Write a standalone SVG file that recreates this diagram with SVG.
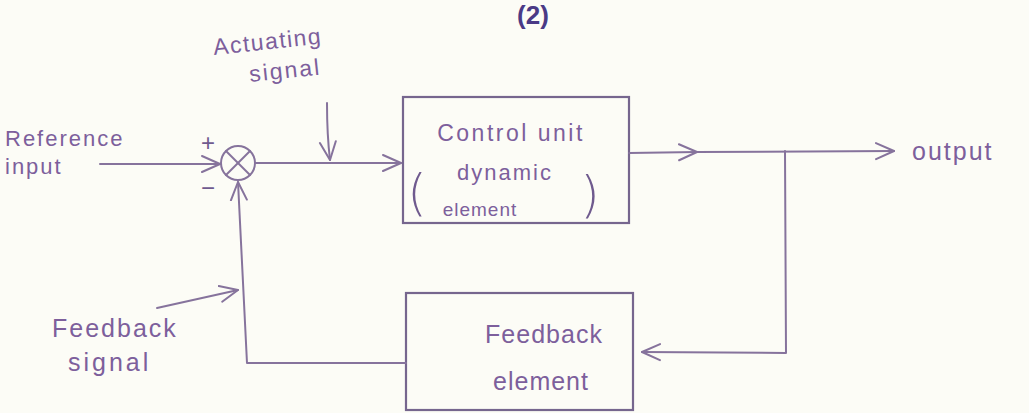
<svg xmlns="http://www.w3.org/2000/svg" width="1029" height="413" viewBox="0 0 1029 413">
  <style>
    .bg { fill: #fcfcf6; }
    .ln { fill: none; stroke: #86739c; stroke-width: 2; stroke-linecap: round; stroke-linejoin: round; }
    .box { fill: none; stroke: #76668e; stroke-width: 2.2; }
    .lbl { font-family: "Liberation Sans", Arial, sans-serif; fill: #7d5f9c; }
    .blk { font-family: "Liberation Sans", Arial, sans-serif; fill: #7d5f9c; text-anchor: middle; }
    .paren { font-family: "DejaVu Sans", sans-serif; fill: #6f5a8e; font-size: 50px; font-weight: 200; text-anchor: middle; }
    .sign { font-family: "Liberation Sans", Arial, sans-serif; fill: #6f5a8e; font-size: 24px; text-anchor: middle; }
  </style>
  <defs>
    <marker id="arr" viewBox="0 0 20 20" refX="19" refY="10" markerWidth="20" markerHeight="20" markerUnits="userSpaceOnUse" orient="auto">
      <polyline points="1,2 19,10 1,18" fill="none" stroke="#86739c" stroke-width="2" stroke-linecap="round" stroke-linejoin="round"/>
    </marker>
  </defs>

  <rect class="bg" x="0" y="0" width="1029" height="413"/>

  <!-- figure number -->
  <text x="533" y="24" font-family="Liberation Sans, Arial, sans-serif" font-size="26" font-weight="bold" fill="#4a3a86" text-anchor="middle">(2)</text>

  <!-- summing junction -->
  <g id="sum">
    <circle class="ln" cx="238" cy="163" r="17"/>
    <line class="ln" x1="226" y1="151" x2="250" y2="175"/>
    <line class="ln" x1="250" y1="151" x2="226" y2="175"/>
    <text class="sign" x="208" y="151">+</text>
    <text class="sign" x="208" y="196">−</text>
  </g>

  <!-- forward block -->
  <g id="control-unit">
    <rect class="box" x="403" y="97" width="226" height="126"/>
    <text class="blk" x="511" y="141" font-size="23" letter-spacing="2.5">Control unit</text>
    <text class="blk" x="505" y="180" font-size="22" letter-spacing="2">dynamic</text>
    <text class="blk" x="480" y="216" font-size="19" letter-spacing="1">element</text>
    <text class="paren" x="417" y="210">(</text>
    <text class="paren" x="590" y="212">)</text>
  </g>

  <!-- feedback block -->
  <g id="feedback-element">
    <rect class="box" x="406" y="293" width="227" height="117"/>
    <text class="blk" x="544" y="343" font-size="25" letter-spacing="1">Feedback</text>
    <text class="blk" x="541" y="390" font-size="25" letter-spacing="1">element</text>
  </g>

  <!-- labels -->
  <g id="labels">
    <text class="lbl" x="5" y="146" font-size="22" letter-spacing="2">Reference</text>
    <text class="lbl" x="5" y="174" font-size="22" letter-spacing="2">input</text>
    <text class="lbl" x="214" y="55" font-size="23" letter-spacing="1.5" transform="rotate(-6 214 55)">Actuating</text>
    <text class="lbl" x="250" y="82" font-size="23" letter-spacing="2" transform="rotate(-6 250 82)">signal</text>
    <text class="lbl" x="912" y="160" font-size="25" letter-spacing="2">output</text>
    <text class="lbl" x="52" y="337" font-size="25" letter-spacing="2">Feedback</text>
    <text class="lbl" x="68" y="371" font-size="25" letter-spacing="3">signal</text>
  </g>

  <!-- connectors -->
  <g id="connectors">
    <line class="ln" x1="100" y1="164" x2="220" y2="164" marker-end="url(#arr)"/>
    <line class="ln" x1="255" y1="163" x2="401" y2="163" marker-end="url(#arr)"/>
    <line class="ln" x1="629" y1="153" x2="697" y2="152" marker-end="url(#arr)"/>
    <line class="ln" x1="697" y1="152" x2="894" y2="151" marker-end="url(#arr)"/>
    <polyline class="ln" points="785,151 786,353 642,352" marker-end="url(#arr)"/>
    <polyline class="ln" points="406,363 247,363 238,182" marker-end="url(#arr)"/>
    <path class="ln" d="M327,103 Q327,135 330,160" marker-end="url(#arr)"/>
    <line class="ln" x1="157" y1="308" x2="238" y2="290" marker-end="url(#arr)"/>
  </g>
</svg>
